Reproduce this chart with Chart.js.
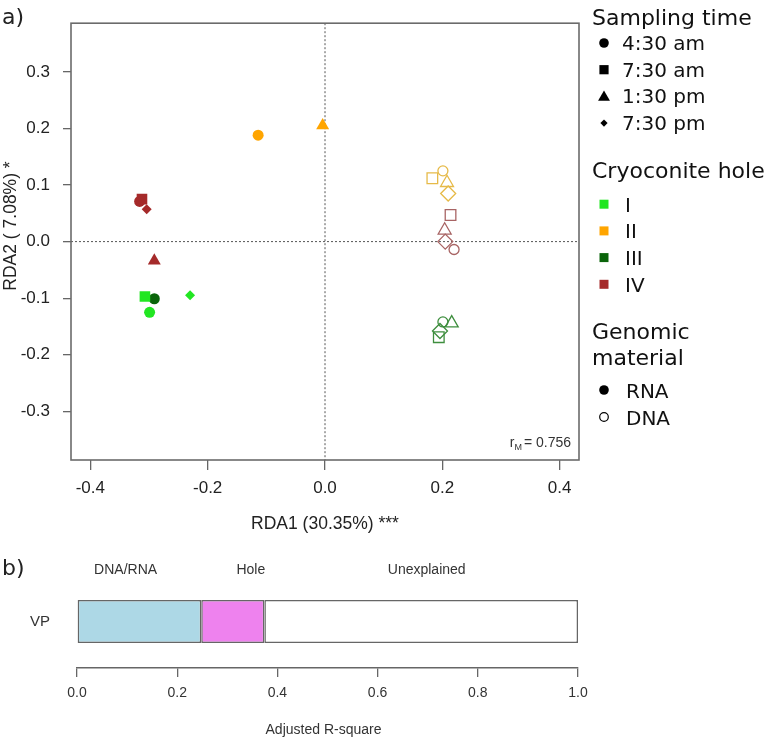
<!DOCTYPE html>
<html>
<head>
<meta charset="utf-8">
<script src="https://cdn.jsdelivr.net/npm/chart.js@4.4.1/dist/chart.umd.min.js"></script>
<style>
  html, body { margin: 0; padding: 0; background: #fff; }
  #wrap { position: relative; width: 766px; height: 741px; }
  #rda-chart { position: absolute; left: 0; top: 0; }
  #vp-chart { position: absolute; left: 0; top: 540px; }
</style>
</head>
<body>
<div id="wrap">
  <canvas id="rda-chart" width="766" height="540"></canvas>
  <canvas id="vp-chart" width="766" height="201"></canvas>
</div>
<script>
// --- Données ---
const holes = ['I', 'II', 'III', 'IV'];
const samplingTimes = ['4:30 am', '7:30 am', '1:30 pm', '7:30 pm'];
const materials = ['RNA', 'DNA'];

// one entry per sample
const sampleHole = ['IV', 'IV', 'IV', 'IV', 'II', 'II', 'I', 'I', 'I', 'III',
                    'II', 'II', 'II', 'II', 'IV', 'IV', 'IV', 'IV', 'III', 'III', 'III', 'III'];
const sampleTime = ['4:30 am', '7:30 am', '7:30 pm', '1:30 pm', '4:30 am', '1:30 pm', '7:30 am', '4:30 am', '7:30 pm', '4:30 am',
                    '7:30 am', '4:30 am', '1:30 pm', '7:30 pm', '7:30 am', '1:30 pm', '7:30 pm', '4:30 am', '4:30 am', '1:30 pm', '7:30 pm', '7:30 am'];
const sampleMaterial = ['RNA', 'RNA', 'RNA', 'RNA', 'RNA', 'RNA', 'RNA', 'RNA', 'RNA', 'RNA',
                        'DNA', 'DNA', 'DNA', 'DNA', 'DNA', 'DNA', 'DNA', 'DNA', 'DNA', 'DNA', 'DNA', 'DNA'];
const rda1 = [-0.316, -0.312, -0.304, -0.291, -0.114, -0.004, -0.307, -0.299, -0.230, -0.291,
              0.183, 0.201, 0.208, 0.210, 0.214, 0.204, 0.205, 0.220, 0.201, 0.216, 0.196, 0.194];
const rda2 = [0.071, 0.075, 0.057, -0.034, 0.188, 0.205, -0.097, -0.125, -0.095, -0.101,
              0.112, 0.125, 0.104, 0.085, 0.047, 0.020, 0.000, -0.014, -0.142, -0.144, -0.158, -0.169];

const rdaXTicks = [-0.4, -0.2, 0.0, 0.2, 0.4];
const rdaYTicks = [-0.3, -0.2, -0.1, 0.0, 0.1, 0.2, 0.3];
const rdaStat = '0.756';

// variation partitioning
const vpRows = ['VP'];
const partNames = ['DNA/RNA', 'Hole', 'Unexplained'];
const partValues = [0.248, 0.126, 0.626];
const partLabelAt = [0.097, 0.347, 0.698];
const vpTicks = [0.0, 0.2, 0.4, 0.6, 0.8, 1.0];

// --- Styles ---
const holeColours = { I: '#22E622', II: '#FFA500', III: '#0A640A', IV: '#A52A2A' };
const dnaColours = { I: '#5CE65C', II: '#E6BA48', III: '#3E8E3E', IV: '#A86464' };
const timeStyle = { '4:30 am': 'circle', '7:30 am': 'rect', '1:30 pm': 'triangle', '7:30 pm': 'rectRot' };
const filledRadius = { circle: 5.5, rect: 7.5, triangle: 7.5, rectRot: 5 };
const openRadius = { circle: 5, rect: 7.5, triangle: 7.5, rectRot: 7.5 };

Chart.defaults.font.family = '"Liberation Sans", Arial, sans-serif';

function buildDatasets() {
    const datasets = [];
    materials.forEach(mat => {
        holes.forEach(hole => {
            const idx = [];
            sampleHole.forEach((h, i) => {
                if (h === hole && sampleMaterial[i] === mat) idx.push(i);
            });
            if (!idx.length) return;
            const filled = mat === 'RNA';
            const colour = filled ? holeColours[hole] : dnaColours[hole];
            datasets.push({
                label: hole + ' ' + mat,
                data: idx.map(i => ({ x: rda1[i], y: rda2[i] })),
                pointStyle: idx.map(i => timeStyle[sampleTime[i]]),
                pointRadius: idx.map(i => (filled ? filledRadius : openRadius)[timeStyle[sampleTime[i]]]),
                pointBackgroundColor: filled ? colour : 'rgba(0,0,0,0)',
                pointBorderColor: colour,
                pointBorderWidth: filled ? 0 : 1.3
            });
        });
    });
    return datasets;
}

// small marker helper for the side legend
function drawMarker(ctx, style, x, y, size, colour, filled) {
    ctx.beginPath();
    if (style === 'circle') {
        ctx.arc(x, y, size, 0, Math.PI * 2);
    } else if (style === 'rect') {
        ctx.rect(x - size, y - size, size * 2, size * 2);
    } else if (style === 'triangle') {
        ctx.moveTo(x, y - size * 1.1);
        ctx.lineTo(x + size * 1.1, y + size * 0.8);
        ctx.lineTo(x - size * 1.1, y + size * 0.8);
        ctx.closePath();
    } else {
        ctx.moveTo(x, y - size);
        ctx.lineTo(x + size, y);
        ctx.lineTo(x, y + size);
        ctx.lineTo(x - size, y);
        ctx.closePath();
    }
    if (filled) {
        ctx.fillStyle = colour;
        ctx.fill();
    } else {
        ctx.strokeStyle = colour;
        ctx.lineWidth = 1.2;
        ctx.stroke();
    }
}

const rdaDecor = {
    id: 'rdaDecor',
    beforeDatasetsDraw(chart) {
        const { ctx, chartArea: a, scales } = chart;
        const x0 = scales.x.getPixelForValue(0);
        const y0 = scales.y.getPixelForValue(0);
        ctx.save();
        ctx.strokeStyle = '#555';
        ctx.lineWidth = 1;
        ctx.setLineDash([2, 2]);
        ctx.beginPath();
        ctx.moveTo(x0, a.top);
        ctx.lineTo(x0, a.bottom);
        ctx.moveTo(a.left, y0);
        ctx.lineTo(a.right, y0);
        ctx.stroke();
        ctx.restore();
    },
    afterDraw(chart) {
        const { ctx, chartArea: a } = chart;
        ctx.save();
        // frame
        ctx.strokeStyle = '#6b6b6b';
        ctx.lineWidth = 1.6;
        ctx.strokeRect(a.left, a.top, a.right - a.left, a.bottom - a.top);

        ctx.fillStyle = '#222';
        ctx.font = '22px "DejaVu Sans"';
        ctx.textAlign = 'left';
        ctx.textBaseline = 'alphabetic';
        ctx.fillText('a)', 2, 24);

        // axis titles
        ctx.font = '17.5px "Liberation Sans"';
        ctx.textAlign = 'center';
        ctx.fillText('RDA1 (30.35%) ***', (a.left + a.right) / 2, 529);
        ctx.save();
        ctx.translate(16, 226);
        ctx.rotate(-Math.PI / 2);
        ctx.fillText('RDA2 ( 7.08%) *', 0, 0);
        ctx.restore();

        // r_M statistic
        ctx.textAlign = 'right';
        ctx.font = '14px "Liberation Sans"';
        ctx.fillStyle = '#333';
        const statText = '= ' + rdaStat;
        ctx.fillText(statText, 571, 447);
        let sx = 571 - ctx.measureText(statText).width - 2;
        ctx.font = '9px "Liberation Sans"';
        ctx.fillText('M', sx, 450);
        sx -= ctx.measureText('M').width;
        ctx.font = '14px "Liberation Sans"';
        ctx.fillText('r', sx, 447);

        // side legend
        const symX = 604, textX = 622;
        ctx.textAlign = 'left';
        ctx.fillStyle = '#111';
        const titleFont = '22px "DejaVu Sans"';
        const itemFont = '20px "DejaVu Sans"';

        ctx.font = titleFont;
        ctx.fillText('Sampling time', 592, 25);
        const timeSize = { circle: 4.8, rect: 4.6, triangle: 5.4, rectRot: 3.6 };
        samplingTimes.forEach((t, i) => {
            const base = 50 + i * 26.7;
            drawMarker(ctx, timeStyle[t], symX, base - 7, timeSize[timeStyle[t]], '#000', true);
            ctx.fillStyle = '#111';
            ctx.font = itemFont;
            ctx.fillText(t, textX, base);
        });

        ctx.font = titleFont;
        ctx.fillText('Cryoconite hole', 592, 178);
        holes.forEach((h, i) => {
            const base = 211.7 + i * 26.7;
            drawMarker(ctx, 'rect', symX, base - 7.5, 4.5, holeColours[h], true);
            ctx.fillStyle = '#111';
            ctx.font = itemFont;
            ctx.fillText(h, textX + 3, base);
        });

        ctx.font = titleFont;
        ctx.fillText('Genomic', 592, 339);
        ctx.fillText('material', 592, 365);
        materials.forEach((m, i) => {
            const base = 398 + i * 27;
            drawMarker(ctx, 'circle', symX, base - 8, m === 'RNA' ? 4.8 : 4.3, '#000', m === 'RNA');
            ctx.fillStyle = '#111';
            ctx.font = itemFont;
            ctx.fillText(m, textX + 4, base);
        });
        ctx.restore();
    }
};

new Chart(document.getElementById('rda-chart'), {
    type: 'scatter',
    data: { datasets: buildDatasets() },
    options: {
        responsive: false,
        animation: false,
        events: [],
        layout: { padding: { left: 0, top: 7, right: 187, bottom: 0 } },
        plugins: { legend: { display: false }, tooltip: { enabled: false } },
        scales: {
            x: {
                type: 'linear',
                min: -0.433,
                max: 0.433,
                afterBuildTicks: s => { s.ticks = rdaXTicks.map(v => ({ value: v })); },
                afterFit: s => { s.height = 80; },
                grid: { drawOnChartArea: false, color: '#666', lineWidth: 1.3, tickLength: 10 },
                border: { display: false },
                ticks: {
                    color: '#222', font: { size: 17 }, padding: 8,
                    autoSkip: false, maxRotation: 0,
                    callback: v => v.toFixed(1)
                }
            },
            y: {
                type: 'linear',
                min: -0.386,
                max: 0.386,
                afterBuildTicks: s => { s.ticks = rdaYTicks.map(v => ({ value: v })); },
                afterFit: s => { s.width = 71; },
                grid: { drawOnChartArea: false, color: '#666', lineWidth: 1.3, tickLength: 8 },
                border: { display: false },
                ticks: {
                    color: '#222', font: { size: 17 }, padding: 13,
                    autoSkip: false,
                    callback: v => v.toFixed(1)
                }
            }
        }
    },
    plugins: [rdaDecor]
});

// --- Variation partitioning bar ---
const partColours = ['#ADD8E6', '#EE82EE', '#FFFFFF'];

const vpDecor = {
    id: 'vpDecor',
    afterDraw(chart) {
        const { ctx, chartArea: a, scales } = chart;
        ctx.save();
        ctx.fillStyle = '#222';
        ctx.font = '22px "DejaVu Sans"';
        ctx.textAlign = 'left';
        ctx.textBaseline = 'alphabetic';
        ctx.fillText('b)', 2, 35);

        ctx.fillStyle = '#333';
        ctx.font = '14px "Liberation Sans"';
        ctx.textAlign = 'center';
        partNames.forEach((name, i) => {
            ctx.fillText(name, scales.x.getPixelForValue(partLabelAt[i]), 34);
        });
        ctx.fillText('Adjusted R-square', (a.left + a.right) / 2 - 4, 194);
        ctx.restore();
    }
};

new Chart(document.getElementById('vp-chart'), {
    type: 'bar',
    data: {
        labels: vpRows,
        datasets: partNames.map((name, i) => ({
            label: name,
            data: [partValues[i]],
            backgroundColor: partColours[i],
            borderColor: '#666',
            borderWidth: 1.5,
            borderSkipped: false,
            barPercentage: 0.46,
            categoryPercentage: 1
        }))
    },
    options: {
        indexAxis: 'y',
        responsive: false,
        animation: false,
        events: [],
        layout: { padding: { left: 0, top: 35, right: 188, bottom: 0 } },
        plugins: { legend: { display: false }, tooltip: { enabled: false } },
        scales: {
            x: {
                stacked: true,
                min: 0,
                max: 1,
                afterBuildTicks: s => { s.ticks = vpTicks.map(v => ({ value: v })); },
                afterFit: s => { s.height = 73; },
                grid: { drawOnChartArea: false, color: '#666', lineWidth: 1.3, tickLength: 9 },
                border: { display: true, color: '#666', width: 1.5 },
                ticks: {
                    color: '#333', font: { size: 14 }, padding: 8,
                    autoSkip: false, maxRotation: 0,
                    callback: v => v.toFixed(1)
                }
            },
            y: {
                stacked: true,
                afterFit: s => { s.width = 77; },
                grid: { display: false },
                border: { display: false },
                ticks: { color: '#333', font: { size: 15 }, padding: 19 }
            }
        }
    },
    plugins: [vpDecor]
});
</script>
</body>
</html>
